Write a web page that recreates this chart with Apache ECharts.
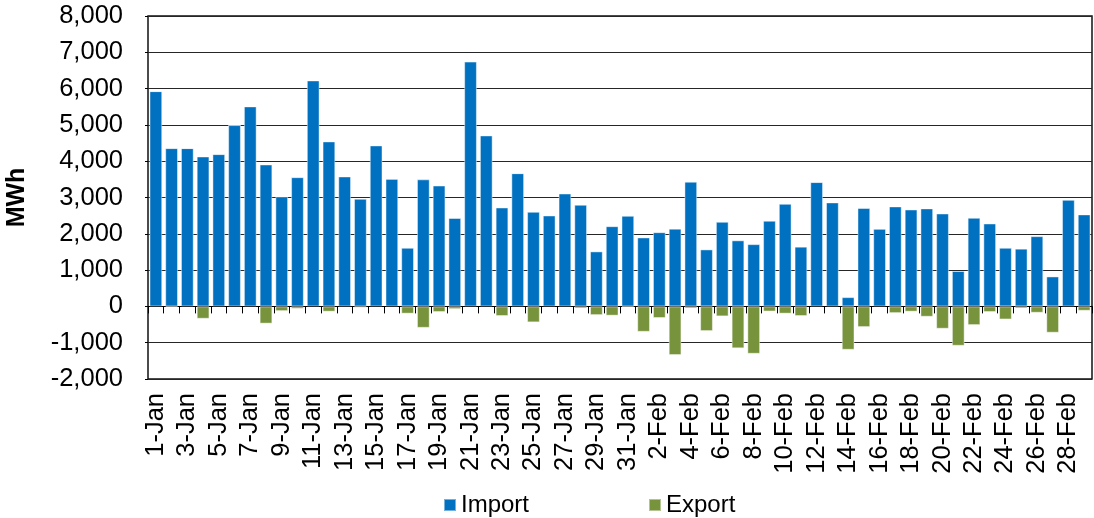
<!DOCTYPE html>
<html>
<head>
<meta charset="utf-8">
<title>Daily import / export</title>
<script src="https://cdn.jsdelivr.net/npm/echarts@6/dist/echarts.min.js"></script>
<style>
  html, body { margin: 0; padding: 0; background: #fff; }
  #chart { width: 1094px; height: 518px; }
</style>
</head>
<body>
<div id="chart"></div>
<script>
// Days 1-Jan .. 29-Feb
const days = [
  '1-Jan','2-Jan','3-Jan','4-Jan','5-Jan','6-Jan','7-Jan','8-Jan','9-Jan','10-Jan',
  '11-Jan','12-Jan','13-Jan','14-Jan','15-Jan','16-Jan','17-Jan','18-Jan','19-Jan','20-Jan',
  '21-Jan','22-Jan','23-Jan','24-Jan','25-Jan','26-Jan','27-Jan','28-Jan','29-Jan','30-Jan',
  '31-Jan','1-Feb','2-Feb','3-Feb','4-Feb','5-Feb','6-Feb','7-Feb','8-Feb','9-Feb',
  '10-Feb','11-Feb','12-Feb','13-Feb','14-Feb','15-Feb','16-Feb','17-Feb','18-Feb','19-Feb',
  '20-Feb','21-Feb','22-Feb','23-Feb','24-Feb','25-Feb','26-Feb','27-Feb','28-Feb','29-Feb'
];

// Daily imported energy, MWh
const importMWh = [
  5930, 4360, 4360, 4130, 4195, 4995, 5510, 3910, 3030, 3560,
  6225, 4545, 3580, 2965, 4435, 3515, 1615, 3500, 3330, 2435,
  6745, 4710, 2725, 3670, 2605, 2505, 3110, 2800, 1515, 2210,
  2495, 1900, 2045, 2140, 3435, 1570, 2330, 1820, 1715, 2360,
  2825, 1645, 3425, 2865, 255, 2710, 2140, 2755, 2670, 2700,
  2560, 975, 2440, 2285, 1615, 1590, 1935, 825, 2940, 2535
];

// Daily exported energy, MWh (drawn below zero)
const exportMWh = [
  0, -30, 0, -340, 0, 0, 0, -475, -130, -65,
  0, -145, 0, -35, 0, 0, -200, -590, -155, -75,
  0, 0, -265, 0, -440, 0, 0, -55, -240, -255,
  -30, -700, -320, -1340, -55, -680, -275, -1155, -1305, -140,
  -200, -265, 0, 0, -1195, -570, 0, -185, -145, -285,
  -615, -1085, -515, -155, -360, -55, -175, -725, 0, -120
];

const yMin = -2000;
const yMax = 8000;
const yStep = 1000;

const FONT = '"Liberation Sans", Arial, sans-serif';

const chart = echarts.init(document.getElementById('chart'), null, { renderer: 'canvas' });

chart.setOption({
  animation: false,
  backgroundColor: '#ffffff',
  textStyle: { fontFamily: FONT, color: '#000' },
  grid: {
    left: 148, right: 2, top: 16, bottom: 139,
    show: true,
    borderColor: '#111',
    borderWidth: 1.5,
    containLabel: false,
    outerBoundsMode: 'none'
  },
  legend: {
    data: ['Import', 'Export'],
    icon: 'rect',
    itemWidth: 12,
    itemHeight: 12,
    itemGap: 119,
    padding: 0,
    left: 443,
    top: 493,
    textStyle: { fontFamily: FONT, fontSize: 24, color: '#000' }
  },
  xAxis: {
    type: 'category',
    data: days,
    boundaryGap: true,
    axisLine: { show: true, onZero: true, lineStyle: { color: '#000', width: 1 } },
    axisTick: { show: true, interval: 0, length: 7, lineStyle: { color: '#000', width: 1 } },
    axisLabel: {
      interval: 1,
      rotate: 90,
      margin: 14,
      fontFamily: FONT,
      fontSize: 25.5,
      color: '#000'
    },
    splitLine: { show: false }
  },
  yAxis: {
    type: 'value',
    min: yMin,
    max: yMax,
    interval: yStep,
    name: 'MWh',
    nameLocation: 'middle',
    nameRotate: 90,
    nameGap: 118,
    nameTextStyle: { fontFamily: FONT, fontSize: 25, fontWeight: 'bold', color: '#000' },
    axisLine: { show: false },
    axisTick: { show: true, length: 3, lineStyle: { color: '#000' } },
    axisLabel: {
      margin: 25,
      fontFamily: FONT,
      fontSize: 25.5,
      color: '#000',
      formatter: v => v.toLocaleString('en-US')
    },
    splitLine: { show: true, lineStyle: { color: '#262626', width: 1 } }
  },
  series: [
    {
      name: 'Import',
      type: 'bar',
      stack: 'flow',
      data: importMWh,
      barCategoryGap: '19%',
      itemStyle: { color: '#0070C0', borderColor: 'rgba(255,255,255,0.45)', borderWidth: 1 }
    },
    {
      name: 'Export',
      type: 'bar',
      stack: 'flow',
      data: exportMWh,
      barCategoryGap: '19%',
      itemStyle: { color: '#77933C', borderColor: 'rgba(255,255,255,0.45)', borderWidth: 1 }
    }
  ]
});
</script>
</body>
</html>
